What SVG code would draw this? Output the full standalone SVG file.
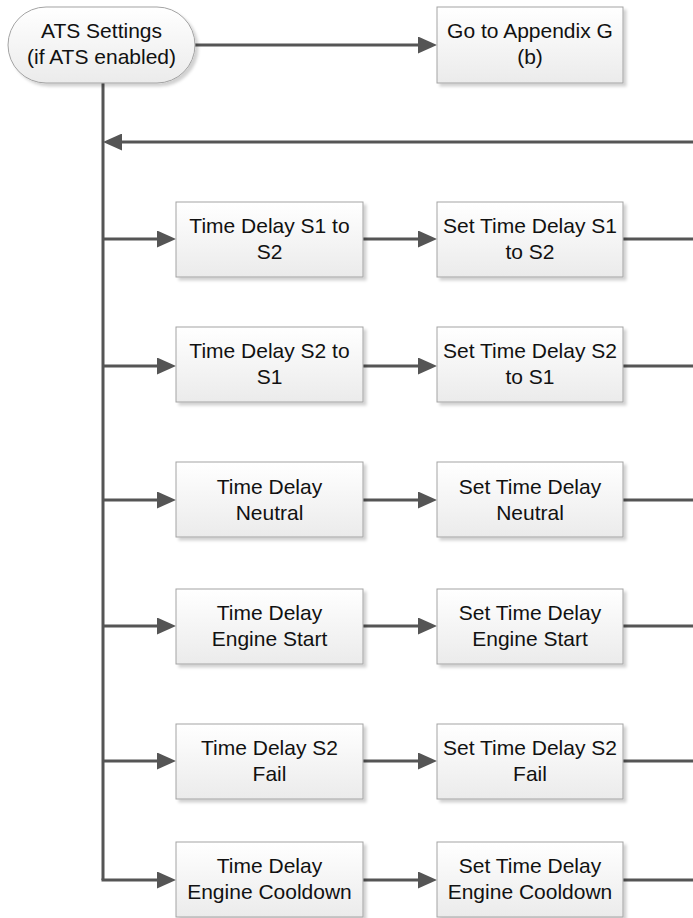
<svg xmlns="http://www.w3.org/2000/svg" width="693" height="918" viewBox="0 0 693 918">
<defs>
<linearGradient id="fillg" x1="0" y1="0" x2="0" y2="1">
<stop offset="0" stop-color="#ffffff"/>
<stop offset="1" stop-color="#ebebeb"/>
</linearGradient>
<filter id="shadow" x="-10%" y="-10%" width="130%" height="140%">
<feDropShadow dx="3" dy="3" stdDeviation="1.5" flood-color="#000" flood-opacity="0.18"/>
</filter>
<marker id="arr" markerUnits="userSpaceOnUse" markerWidth="19" markerHeight="17" refX="4" refY="8.5" orient="auto" viewBox="0 0 19 17">
<path d="M0,0 L19,8.5 L0,17 z" fill="#555555"/>
</marker>
</defs>
<style>
.box{fill:url(#fillg);stroke:#a3a3a3;stroke-width:1;filter:url(#shadow);}
.lbl{font-family:"Liberation Sans",Arial,sans-serif;font-size:21px;fill:#111111;text-anchor:middle;}
.ln{fill:none;stroke:#555555;stroke-width:3;}
.la{fill:none;stroke:#555555;stroke-width:3;marker-end:url(#arr);}
</style>

<g id="connectors">
<path class="la" d="M195,45 H422"/>
<path class="ln" d="M103,83 V880"/>
<path class="la" d="M693,142 H118"/>
<path class="la" d="M103,239 H161"/>
<path class="la" d="M363,239 H422"/>
<path class="ln" d="M623,239 H693"/>
<path class="la" d="M103,366 H161"/>
<path class="la" d="M363,366 H422"/>
<path class="ln" d="M623,366 H693"/>
<path class="la" d="M103,500 H161"/>
<path class="la" d="M363,500 H422"/>
<path class="ln" d="M623,500 H693"/>
<path class="la" d="M103,626 H161"/>
<path class="la" d="M363,626 H422"/>
<path class="ln" d="M623,626 H693"/>
<path class="la" d="M103,761 H161"/>
<path class="la" d="M363,761 H422"/>
<path class="ln" d="M623,761 H693"/>
<path class="la" d="M101.5,880 H161"/>
<path class="la" d="M363,880 H422"/>
<path class="ln" d="M623,880 H693"/>
</g>

<g id="start">
<rect class="box" x="8" y="7" width="187" height="76" rx="38" ry="38"/>
<text class="lbl" x="101.5" y="38">ATS Settings</text>
<text class="lbl" x="101.5" y="64">(if ATS enabled)</text>
</g>
<g id="goto">
<rect class="box" x="437" y="7" width="186" height="76"/>
<text class="lbl" x="530" y="38">Go to Appendix G</text>
<text class="lbl" x="530" y="64">(b)</text>
</g>

<g id="td12">
<rect class="box" x="176" y="202" width="187" height="75"/>
<text class="lbl" x="269.5" y="232.5">Time Delay S1 to</text>
<text class="lbl" x="269.5" y="258.5">S2</text>
</g>
<g id="set12">
<rect class="box" x="437" y="202" width="186" height="75"/>
<text class="lbl" x="530" y="232.5">Set Time Delay S1</text>
<text class="lbl" x="530" y="258.5">to S2</text>
</g>

<g id="td21">
<rect class="box" x="176" y="327" width="187" height="75"/>
<text class="lbl" x="269.5" y="358">Time Delay S2 to</text>
<text class="lbl" x="269.5" y="384">S1</text>
</g>
<g id="set21">
<rect class="box" x="437" y="327" width="186" height="75"/>
<text class="lbl" x="530" y="358">Set Time Delay S2</text>
<text class="lbl" x="530" y="384">to S1</text>
</g>

<g id="tdn">
<rect class="box" x="176" y="462" width="187" height="75"/>
<text class="lbl" x="269.5" y="493.5">Time Delay</text>
<text class="lbl" x="269.5" y="519.5">Neutral</text>
</g>
<g id="setn">
<rect class="box" x="437" y="462" width="186" height="75"/>
<text class="lbl" x="530" y="493.5">Set Time Delay</text>
<text class="lbl" x="530" y="519.5">Neutral</text>
</g>

<g id="tdes">
<rect class="box" x="176" y="589" width="187" height="75"/>
<text class="lbl" x="269.5" y="620">Time Delay</text>
<text class="lbl" x="269.5" y="646">Engine Start</text>
</g>
<g id="setes">
<rect class="box" x="437" y="589" width="186" height="75"/>
<text class="lbl" x="530" y="620">Set Time Delay</text>
<text class="lbl" x="530" y="646">Engine Start</text>
</g>

<g id="tdf">
<rect class="box" x="176" y="724" width="187" height="75"/>
<text class="lbl" x="269.5" y="755">Time Delay S2</text>
<text class="lbl" x="269.5" y="781">Fail</text>
</g>
<g id="setf">
<rect class="box" x="437" y="724" width="186" height="75"/>
<text class="lbl" x="530" y="755">Set Time Delay S2</text>
<text class="lbl" x="530" y="781">Fail</text>
</g>

<g id="tdec">
<rect class="box" x="176" y="842" width="187" height="75"/>
<text class="lbl" x="269.5" y="873">Time Delay</text>
<text class="lbl" x="269.5" y="899">Engine Cooldown</text>
</g>
<g id="setec">
<rect class="box" x="437" y="842" width="186" height="75"/>
<text class="lbl" x="530" y="873">Set Time Delay</text>
<text class="lbl" x="530" y="899">Engine Cooldown</text>
</g>
</svg>
